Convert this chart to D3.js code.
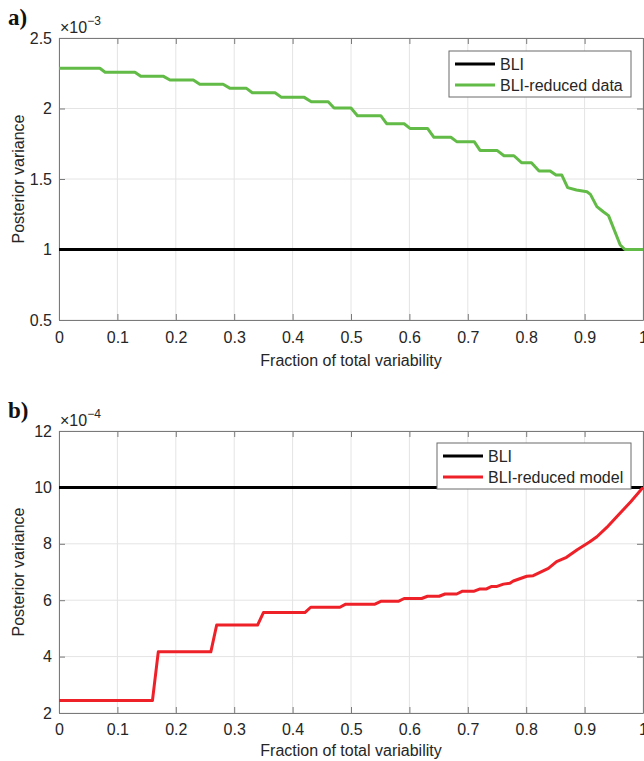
<!DOCTYPE html>
<html>
<head>
<meta charset="utf-8">
<script src="https://cdn.jsdelivr.net/npm/d3@7"></script>
<style>
  body { margin: 0; background: #fff; }
  svg { font-family: "Liberation Sans", Arial, Helvetica, sans-serif; }
  .tick text { fill: #262626; font-size: 16px; }
  .frame path.domain { stroke: #7a7a7a; }
  .frame .tick line { stroke: #7a7a7a; }
  .grid line { stroke: #e4e4e4; }
</style>
</head>
<body>
<svg width="644" height="761"></svg>
<script>
// ---- data ----
const xTicks = [0, 0.1, 0.2, 0.3, 0.4, 0.5, 0.6, 0.7, 0.8, 0.9, 1];
const yTicksA = [0.5, 1, 1.5, 2, 2.5];
const yTicksB = [2, 4, 6, 8, 10, 12];

// panel a: values in units of 1e-3
const bliA = 1.0;
const reducedDataX = [0, 0.070, 0.079, 0.130, 0.140, 0.179, 0.190, 0.230, 0.241, 0.281, 0.293, 0.321, 0.331,
  0.370, 0.381, 0.420, 0.432, 0.461, 0.471, 0.500, 0.511, 0.551, 0.561, 0.591, 0.601, 0.631, 0.642, 0.671,
  0.681, 0.711, 0.721, 0.750, 0.762, 0.779, 0.792, 0.809, 0.822, 0.841, 0.851, 0.861, 0.871, 0.886, 0.904,
  0.910, 0.921, 0.932, 0.941, 0.961, 0.969, 1];
const reducedDataY = [2.285, 2.285, 2.257, 2.257, 2.228, 2.228, 2.202, 2.202, 2.172, 2.172, 2.143, 2.143, 2.112,
  2.112, 2.079, 2.079, 2.048, 2.048, 2.004, 2.004, 1.949, 1.949, 1.892, 1.892, 1.859, 1.859, 1.796, 1.796,
  1.765, 1.765, 1.703, 1.703, 1.665, 1.665, 1.616, 1.616, 1.557, 1.557, 1.528, 1.528, 1.439, 1.422, 1.410,
  1.391, 1.304, 1.268, 1.240, 1.032, 1.0, 1.0];

// panel b: values in units of 1e-4
const bliB = 10;
const reducedModelX = [0, 0.160, 0.170, 0.260, 0.270, 0.340, 0.350, 0.421, 0.431, 0.481, 0.491, 0.541, 0.551,
  0.581, 0.591, 0.621, 0.631, 0.651, 0.661, 0.681, 0.691, 0.711, 0.721, 0.732, 0.741, 0.750, 0.761, 0.772,
  0.778, 0.801, 0.812, 0.838, 0.852, 0.869, 0.888, 0.909, 0.921, 0.938, 0.955, 0.979, 1];
const reducedModelY = [2.44, 2.44, 4.17, 4.17, 5.12, 5.12, 5.56, 5.56, 5.75, 5.75, 5.86, 5.86, 5.96,
  5.96, 6.06, 6.06, 6.14, 6.14, 6.22, 6.22, 6.32, 6.32, 6.40, 6.40, 6.49, 6.49, 6.57, 6.60,
  6.68, 6.85, 6.87, 7.13, 7.37, 7.52, 7.80, 8.07, 8.25, 8.58, 8.96, 9.49, 10.0];

const svg = d3.select("svg");
const left = 59, right = 643;

const x = d3.scaleLinear().domain([0, 1]).range([left, right]);

function drawPanel(opts) {
  const y = d3.scaleLinear().domain(opts.yDomain).range([opts.bottom, opts.top]);
  const g = svg.append("g");

  // grid
  const grid = g.append("g").attr("class", "grid");
  grid.selectAll("line.gx").data(xTicks).enter().append("line")
    .attr("x1", d => x(d)).attr("x2", d => x(d))
    .attr("y1", opts.top).attr("y2", opts.bottom);
  grid.selectAll("line.gy").data(opts.yTicks).enter().append("line")
    .attr("x1", left).attr("x2", right)
    .attr("y1", d => y(d)).attr("y2", d => y(d));

  const fmt = d => String(d);

  // axes, ticks pointing inward like matlab
  g.append("g").attr("class", "frame")
    .attr("transform", `translate(0,${opts.bottom})`)
    .call(d3.axisBottom(x).tickValues(xTicks).tickFormat(fmt).tickSizeInner(-6).tickSizeOuter(0).tickPadding(opts.xPad));
  g.append("g").attr("class", "frame")
    .attr("transform", `translate(0,${opts.top})`)
    .call(d3.axisTop(x).tickValues(xTicks).tickFormat("").tickSizeInner(-6).tickSizeOuter(0));
  g.append("g").attr("class", "frame")
    .attr("transform", `translate(${left},0)`)
    .call(d3.axisLeft(y).tickValues(opts.yTicks).tickFormat(fmt).tickSizeInner(-6).tickSizeOuter(0).tickPadding(7));
  g.append("g").attr("class", "frame")
    .attr("transform", `translate(${right},0)`)
    .call(d3.axisRight(y).tickValues(opts.yTicks).tickFormat("").tickSizeInner(-6).tickSizeOuter(0));
  g.selectAll(".frame .tick text").attr("fill", "#262626");

  const line = d3.line().x(d => x(d[0])).y(d => y(d[1]));

  g.append("path")
    .datum([[0, opts.bli], [1, opts.bli]])
    .attr("fill", "none").attr("stroke", "#000").attr("stroke-width", 3)
    .attr("d", line);

  g.append("path")
    .datum(opts.xs.map((v, i) => [v, opts.ys[i]]))
    .attr("fill", "none").attr("stroke", opts.color).attr("stroke-width", 3)
    .attr("stroke-linejoin", "round")
    .attr("d", line);

  // legend
  const lg = g.append("g");
  lg.append("rect")
    .attr("x", opts.legend.x).attr("y", opts.legend.y)
    .attr("width", opts.legend.w).attr("height", 46)
    .attr("fill", "#fff").attr("stroke", "#6b6b6b").attr("stroke-width", 1);
  const entries = [["BLI", "#000"], [opts.name, opts.color]];
  entries.forEach((e, i) => {
    const cy = opts.legend.y + 13 + i * 21;
    lg.append("line")
      .attr("x1", opts.legend.x + 6).attr("x2", opts.legend.x + 46)
      .attr("y1", cy).attr("y2", cy)
      .attr("stroke", e[1]).attr("stroke-width", 3);
    lg.append("text")
      .attr("x", opts.legend.x + 51).attr("y", cy + 6)
      .attr("font-size", 16).attr("fill", "#262626")
      .text(e[0]);
  });

  // labels
  g.append("text")
    .attr("x", (left + right) / 2).attr("y", opts.xLabelY)
    .attr("text-anchor", "middle").attr("font-size", 16).attr("fill", "#262626")
    .text("Fraction of total variability");
  g.append("text")
    .attr("transform", `translate(24,${(opts.top + opts.bottom) / 2}) rotate(-90)`)
    .attr("text-anchor", "middle").attr("font-size", 16).attr("fill", "#262626")
    .text("Posterior variance");

  const ex = g.append("text")
    .attr("x", 60).attr("y", opts.top - 5)
    .attr("font-size", 16).attr("fill", "#262626");
  ex.append("tspan").text("\u00d710");
  ex.append("tspan").attr("dy", -8).attr("font-size", 12).text(opts.exponent);

  g.append("text")
    .attr("x", 8).attr("y", opts.top - 13)
    .attr("font-family", "'Liberation Serif', 'Times New Roman', serif")
    .attr("font-weight", "bold").attr("font-size", 23).attr("fill", "#111")
    .text(opts.panel);
}

drawPanel({
  panel: "a)", top: 38, bottom: 320, yDomain: [0.5, 2.5], yTicks: yTicksA,
  bli: bliA, xs: reducedDataX, ys: reducedDataY, color: "#62bb46",
  name: "BLI-reduced data", legend: { x: 449, y: 51, w: 182 },
  xPad: 11.5, xLabelY: 366, exponent: "\u22123"
});

drawPanel({
  panel: "b)", top: 431, bottom: 713, yDomain: [2, 12], yTicks: yTicksB,
  bli: bliB, xs: reducedModelX, ys: reducedModelY, color: "#ee2028",
  name: "BLI-reduced model", legend: { x: 437, y: 443, w: 194 },
  xPad: 10.6, xLabelY: 756, exponent: "\u22124"
});
</script>
</body>
</html>
